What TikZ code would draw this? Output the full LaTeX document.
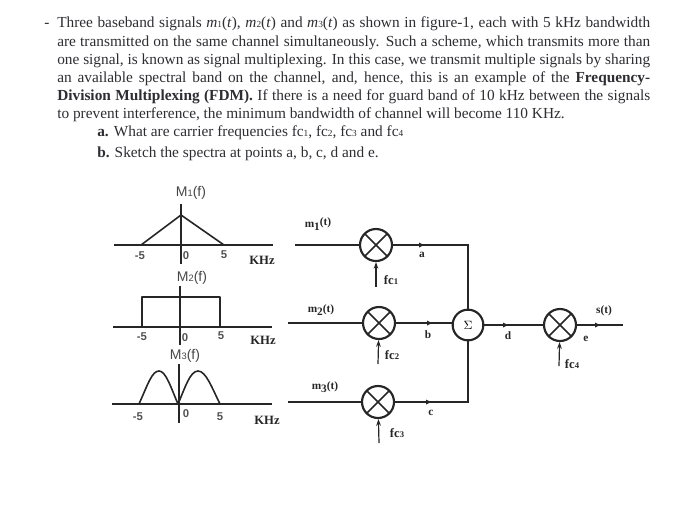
\documentclass[tikz,border=0pt]{standalone}
\usepackage{fontspec}
\setmainfont{Liberation Serif}
\newfontfamily\sansf{Liberation Sans}
\definecolor{ink}{RGB}{38,38,38}
\definecolor{txt}{RGB}{45,45,50}
\newcommand{\tl}[3]{\node[textline] (#1) at (57,#2) {\makebox[444.75pt][s]{#3}};}
\newcommand{\smsub}[1]{{\fontsize{7}{8}\selectfont #1}}
\newcommand{\tinysub}[1]{{\fontsize{6.5}{7}\selectfont #1}}
\tikzset{
  textline/.style={anchor=base west,inner sep=0pt,font=\fontsize{11.5}{13}\selectfont,text=txt},
  sub/.style={anchor=base west,inner sep=0pt,font=\fontsize{11.5}{13}\selectfont,text=txt},
  axisline/.style={draw=ink,line width=1.2pt},
  curveline/.style={draw=ink,line width=1.2pt,line join=round},
  wire/.style={draw=ink,line width=1.35pt},
  mixer/.style={circle,draw=ink,line width=1.6pt,minimum size=24pt,inner sep=0pt,path picture={
     \draw[ink,line width=1.1pt] (path picture bounding box.south west) -- (path picture bounding box.north east)
       (path picture bounding box.north west) -- (path picture bounding box.south east);}},
  summer/.style={circle,draw=ink,line width=1.6pt,minimum size=23pt,inner sep=0pt,font=\fontsize{9}{10}\selectfont,fill=white},
  tick/.style={anchor=center,inner sep=0pt,font=\sansf\fontsize{8.5}{10}\selectfont\bfseries,text=ink!80},
  plain/.style={anchor=center,inner sep=0pt,font=\sansf\fontsize{10.5}{12}\selectfont,text=ink!85},
  khz/.style={anchor=center,inner sep=0pt,font=\bfseries\fontsize{9.5}{11}\selectfont,text=ink},
  pt/.style={anchor=center,inner sep=0pt,font=\bfseries\fontsize{8.5}{10}\selectfont,text=ink},
  carrier/.style={draw=ink,line width=.9pt,-{Stealth[length=5pt,width=3.5pt]}},
  fclab/.style={anchor=center,inner sep=0pt,font=\bfseries\fontsize{9.5}{11}\selectfont,text=ink},
}
\usetikzlibrary{arrows.meta}
\begin{document}
\begin{tikzpicture}[x=0.75pt,y=-0.75pt]
\useasboundingbox (0,0) rectangle (700,529);
% paragraph
\node[sub] (dash) at (44,27) {-};
\tl{l1}{27}{Three baseband signals \textit{m}\smsub{1}(\textit{t}), \textit{m}\smsub{2}(\textit{t}) and \textit{m}\smsub{3}(\textit{t}) as shown in figure-1, each with 5 kHz bandwidth}
\tl{l2}{46}{are transmitted on the same channel simultaneously. Such a scheme, which transmits more than}
\tl{l3}{64}{one signal, is known as signal multiplexing. In this case, we transmit multiple signals by sharing}
\tl{l4}{82}{an available spectral band on the channel, and, hence, this is an example of the \textbf{Frequency-}}
\tl{l5}{100}{\textbf{Division Multiplexing (FDM).} If there is a need for guard band of 10 kHz between the signals}
\node[textline] (l6) at (57,118) {to prevent interference, the minimum bandwidth of channel will become 110 KHz.};
\node[textline] (qa) at (97,136) {\textbf{a.} What are carrier frequencies fc\smsub{1}, fc\smsub{2}, fc\smsub{3} and fc\smsub{4}};
\node[textline] (qb) at (97,157) {\textbf{b.} Sketch the spectra at points a, b, c, d and e.};
% M1
\coordinate (a1w) at (114,245); \coordinate (a1e) at (273,245);
\coordinate (v1t) at (181,204); \coordinate (v1b) at (181,264);
\draw[axisline] (a1w) -- (a1e);
\draw[axisline] (v1t) -- (v1b);
\draw[curveline] (141,245) -- (181,215) -- (224,245);
\node[plain] (m1f) at (191,193) {M\smsub{1}(f)};
\node[tick] (t1a) at (140,256) {-5};
\node[tick] (t1b) at (186,256) {0};
\node[tick] (t1c) at (224,255) {5};
\node[khz] (k1) at (262,260) {KHz};
% M2
\coordinate (a2w) at (113,327); \coordinate (a2e) at (272,327);
\coordinate (v2t) at (180,286); \coordinate (v2b) at (180,345);
\draw[axisline] (a2w) -- (a2e);
\draw[axisline] (v2t) -- (v2b);
\draw[curveline] (142,327) -- (142,297) -- (220,297) -- (220,327);
\node[plain] (m2f) at (192,278) {M\smsub{2}(f)};
\node[tick] (t2a) at (142,337) {-5};
\node[tick] (t2b) at (185,338) {0};
\node[tick] (t2c) at (221,336) {5};
\node[khz] (k2) at (263,340) {KHz};
% M3
\coordinate (a3w) at (112,404); \coordinate (a3e) at (272,404);
\coordinate (v3t) at (179,364); \coordinate (v3b) at (179,423);
\draw[axisline] (a3w) -- (a3e);
\draw[axisline] (v3t) -- (v3b);
\draw[curveline] (139,404) .. controls (148,384) and (152,371) .. (159,371) .. controls (166,371) and (171,388) .. (178,404)
  .. controls (185,388) and (190,371) .. (198,371) .. controls (206,371) and (212,388) .. (220,404);
\node[plain] (m3f) at (185,356) {M\smsub{3}(f)};
\node[tick] (t3a) at (138,417) {-5};
\node[tick] (t3b) at (186,414) {0};
\node[tick] (t3c) at (220,417) {5};
\node[khz] (k3) at (267,420) {KHz};
% block diagram
\node[mixer] (x1) at (376,245) {};
\node[mixer] (x2) at (379,323) {};
\node[mixer] (x3) at (378,402) {};
\node[mixer] (x4) at (560,325) {};
\node[summer] (sum) at (468,325) {$\Sigma$};
\coordinate (in1) at (295,245);
\coordinate (in2) at (288,323);
\coordinate (in3) at (288,402);
\coordinate (out) at (623,325);
\draw[wire] (in1) -- (x1);
\draw[wire] (in2) -- (x2);
\draw[wire] (in3) -- (x3);
\draw[wire] (x1) -| (sum.north);
\draw[wire] (x2) -- (sum.west |- x2);
\draw[wire] (x3) -| (sum.south);
\draw[wire] (sum) -- (x4);
\draw[wire] (x4) -- (out);
\foreach \p in {(421,245),(429,323),(428,402),(505,325),(597,325)}
  \fill[ink] \p ++(-2,-2.5) -- ++(5,2.5) -- ++(-5,2.5) -- cycle;
\coordinate (f1) at (376,287); \coordinate (f2) at (378,364); \coordinate (f3) at (379,443); \coordinate (f4) at (559,366);
\draw[carrier] (f1) -- (x1);
\draw[carrier] (f2) -- (x2);
\draw[carrier] (f3) -- (x3);
\draw[carrier] (f4) -- (x4);
\node[pt] (la) at (422,255) {a};
\node[pt] (lb) at (428,335) {b};
\node[pt] (lc) at (431,413) {c};
\node[pt] (ld) at (508,336) {d};
\node[pt] (le) at (586,339) {e};
\node[pt] (ls) at (604,311) {s(t)};
\node[fclab] (c1) at (391,280) {fc\tinysub{1}};
\node[fclab] (c2) at (392,355) {fc\tinysub{2}};
\node[fclab] (c3) at (397,433) {fc\tinysub{3}};
\node[fclab] (c4) at (572,364) {fc\tinysub{4}};
\node[pt] (s1) at (318,224) {m\raisebox{-2.5pt}{1}\raisebox{1.5pt}{(t)}};
\node[pt] (s2) at (321,310) {m\raisebox{-2.5pt}{2}(t)};
\node[pt] (s3) at (325,387) {m\raisebox{-2.5pt}{3}(t)};
\end{tikzpicture}
\end{document}
